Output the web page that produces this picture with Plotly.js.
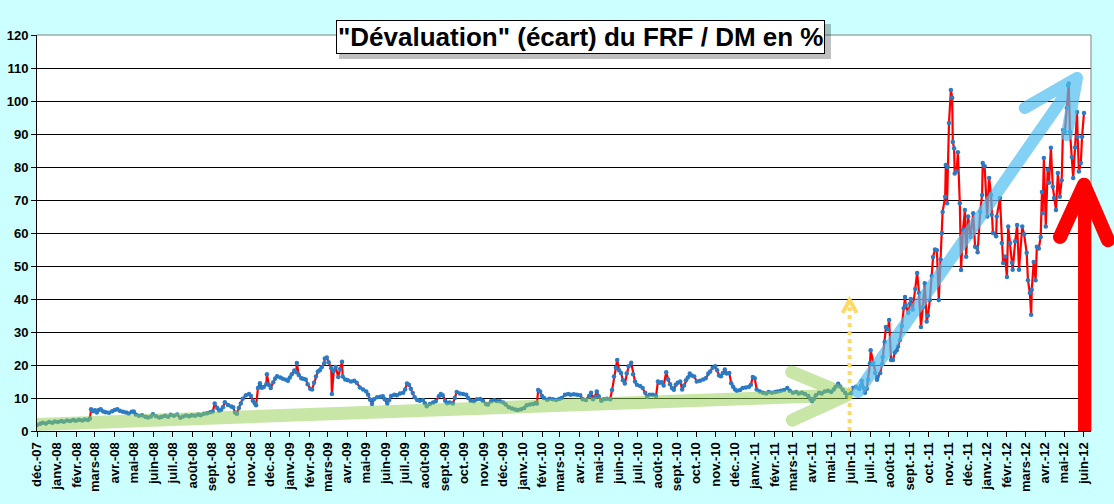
<!DOCTYPE html>
<html>
<head>
<meta charset="utf-8">
<script src="https://cdn.plot.ly/plotly-3.0.1.min.js"></script>
<style>
  html, body { margin: 0; padding: 0; background: #CCFFFF; }
  #chart { width: 1114px; height: 504px; }
</style>
</head>
<body>
<div id="chart"></div>
<script>
// Days counted from 1 Dec 2007, and the FRF / DM gap in %
const dayNum = [
    0, 5, 9, 14, 19, 24, 28, 33, 38, 42, 47, 52, 57, 61, 66,
    71, 75, 80, 83, 85, 88, 91, 94, 97, 100, 104, 108, 113, 118, 122,
    126, 130, 135, 140, 144, 149, 152, 155, 160, 165, 170, 174, 179, 182, 187,
    192, 196, 201, 206, 210, 215, 220, 225, 229, 234, 239, 243, 248, 253, 257,
    262, 267, 272, 276, 279, 283, 286, 289, 292, 295, 300, 305, 308, 311, 314,
    317, 320, 323, 328, 333, 336, 339, 342, 344, 347, 350, 353, 356, 360, 361,
    364, 367, 371, 374, 377, 382, 386, 391, 394, 397, 400, 404, 407, 408, 411,
    415, 418, 422, 425, 429, 432, 435, 438, 441, 444, 447, 451, 452, 455, 458,
    462, 463, 466, 469, 473, 476, 479, 480, 484, 488, 493, 498, 502, 507, 512,
    517, 520, 523, 526, 529, 534, 539, 543, 546, 550, 553, 556, 561, 565, 570,
    575, 578, 581, 584, 587, 590, 593, 597, 601, 606, 609, 612, 617, 622, 626,
    631, 634, 637, 641, 644, 648, 653, 656, 659, 664, 669, 674, 677, 681, 686,
    691, 696, 700, 705, 708, 713, 718, 722, 727, 732, 736, 741, 746, 751, 755,
    760, 765, 769, 774, 779, 783, 785, 787, 790, 793, 796, 801, 805, 810, 815,
    820, 824, 829, 834, 838, 843, 848, 853, 857, 862, 867, 870, 873, 876, 879,
    882, 886, 890, 895, 900, 903, 906, 909, 911, 914, 917, 920, 923, 926, 929,
    933, 936, 939, 942, 947, 951, 955, 958, 962, 967, 972, 975, 978, 981, 984,
    988, 991, 994, 997, 1000, 1003, 1006, 1010, 1013, 1016, 1019, 1022, 1025, 1028, 1032,
    1036, 1041, 1046, 1050, 1054, 1057, 1061, 1065, 1068, 1071, 1074, 1077, 1080, 1083, 1087,
    1090, 1093, 1096, 1099, 1104, 1108, 1113, 1118, 1121, 1124, 1127, 1130, 1135, 1140, 1145,
    1149, 1154, 1159, 1163, 1168, 1173, 1178, 1182, 1187, 1192, 1196, 1201, 1206, 1211, 1214,
    1217, 1220, 1223, 1228, 1232, 1237, 1242, 1247, 1251, 1254, 1258, 1261, 1265, 1269, 1272,
    1275, 1278, 1281, 1286, 1291, 1294, 1295, 1298, 1300, 1303, 1305, 1308, 1309, 1313, 1316,
    1319, 1320, 1324, 1327, 1328, 1331, 1333, 1336, 1338, 1341, 1344, 1347, 1350, 1352, 1355,
    1358, 1361, 1363, 1364, 1368, 1371, 1372, 1375, 1379, 1382, 1385, 1388, 1391, 1394, 1397,
    1399, 1402, 1405, 1407, 1410, 1413, 1416, 1419, 1421, 1422, 1426, 1427, 1429, 1430, 1432,
    1435, 1437, 1438, 1440, 1441, 1444, 1446, 1449, 1451, 1454, 1457, 1459, 1462, 1466, 1470,
    1473, 1476, 1477, 1481, 1484, 1485, 1488, 1492, 1495, 1498, 1499, 1501, 1506, 1507, 1512,
    1515, 1517, 1520, 1523, 1525, 1528, 1531, 1532, 1536, 1539, 1542, 1547, 1550, 1554, 1556,
    1559, 1561, 1562, 1565, 1568, 1570, 1573, 1576, 1578, 1579, 1581, 1584, 1587, 1589, 1592,
    1595, 1597, 1600, 1603, 1606, 1609, 1611, 1614, 1617, 1619, 1620, 1622, 1625, 1627, 1630,
    1633, 1634, 1636, 1639, 1641, 1644
];
const devalPct = [
    1.8, 2.2, 2.5, 2.3, 2.7, 2.5, 2.9, 2.7, 3.0, 2.8, 3.2, 3.0, 3.3, 3.1, 3.4,
    3.2, 3.5, 3.3, 3.8, 6.6, 6.0, 6.3, 5.6, 6.4, 6.6, 5.9, 5.7, 5.5, 6.0, 6.4,
    6.6, 6.1, 5.8, 5.6, 5.3, 5.8, 5.9, 5.0, 4.6, 4.8, 4.3, 4.1, 4.4, 5.1, 4.5,
    4.1, 4.3, 4.6, 4.3, 4.9, 4.6, 5.0, 4.0, 4.4, 4.7, 4.5, 4.8, 4.6, 5.0, 4.8,
    5.2, 5.4, 5.7, 5.9, 8.3, 7.0, 6.1, 6.4, 7.2, 8.7, 7.9, 7.4, 7.2, 5.6, 5.2,
    7.0, 8.3, 9.8, 10.8, 11.2, 10.6, 9.2, 8.4, 7.8, 13.0, 14.5, 13.1, 13.3, 14.2, 17.2,
    14.0, 13.0, 14.8, 15.9, 16.6, 16.2, 15.8, 15.5, 15.2, 16.2, 17.2, 18.3, 17.8, 20.6, 17.0,
    16.0, 15.8, 15.6, 14.2, 12.8, 12.6, 14.6, 16.5, 18.0, 18.4, 19.3, 20.5, 22.0, 22.3, 20.8,
    19.0, 11.2, 18.2, 19.4, 16.4, 18.8, 21.0, 16.5, 15.6, 15.4, 15.0, 15.2, 14.6, 13.2, 12.6,
    12.0, 11.0, 9.5, 8.2, 9.6, 10.2, 10.4, 10.5, 9.6, 8.3, 9.4, 10.6, 11.0, 10.8, 11.4,
    11.6, 12.6, 14.4, 14.0, 12.8, 11.5, 10.2, 9.4, 9.2, 9.4, 8.4, 7.5, 8.2, 8.6, 9.0,
    10.5, 11.2, 10.8, 9.2, 8.4, 8.6, 8.3, 10.0, 11.8, 11.4, 11.2, 11.0, 10.0, 9.2, 9.0,
    9.6, 9.7, 9.2, 8.2, 8.0, 9.0, 9.3, 9.1, 9.0, 8.6, 8.0, 7.2, 6.8, 6.5, 6.4,
    6.6, 7.0, 7.8, 8.0, 8.2, 8.5, 8.3, 12.4, 12.0, 10.6, 10.0, 9.5, 9.8, 9.6, 9.4,
    9.7, 10.0, 11.0, 11.2, 11.0, 11.1, 11.0, 10.8, 9.6, 9.4, 10.6, 11.6, 9.6, 10.4, 12.0,
    10.5, 9.2, 9.6, 9.8, 9.6, 12.4, 16.5, 19.2, 21.5, 18.4, 17.6, 15.4, 14.4, 17.5, 19.6,
    20.7, 17.2, 15.0, 14.0, 13.6, 13.0, 11.6, 10.4, 11.0, 11.0, 10.6, 15.0, 14.6, 14.8, 13.8,
    17.8, 15.6, 14.2, 13.0, 12.5, 14.0, 14.6, 15.0, 12.6, 13.8, 15.4, 16.2, 17.4, 16.8, 16.5,
    15.0, 15.2, 15.6, 16.0, 17.4, 18.0, 19.2, 19.6, 18.4, 16.8, 16.6, 17.6, 18.6, 17.4, 17.6,
    14.5, 13.4, 12.6, 12.2, 12.4, 13.0, 13.2, 13.4, 14.0, 16.4, 16.0, 12.6, 12.0, 11.6, 11.4,
    11.8, 11.6, 11.8, 12.0, 12.2, 12.4, 13.0, 12.2, 11.6, 11.8, 11.4, 11.6, 11.2, 10.6, 9.8,
    9.0, 9.8, 10.8, 11.6, 11.4, 12.0, 12.2, 11.8, 12.6, 13.4, 14.3, 13.5, 12.5, 11.6, 10.5,
    11.0, 11.4, 13.0, 13.4, 12.8, 13.8, 15.2, 13.0, 11.6, 12.8, 15.5, 20.5, 24.5, 20.6, 17.6,
    15.5, 16.4, 17.6, 20.2, 22.4, 27.0, 31.5, 30.8, 33.6, 21.5, 21.5, 23.8, 24.5, 25.6, 27.6,
    31.8, 37.2, 40.6, 38.2, 35.8, 38.6, 40.0, 36.8, 43.0, 47.9, 41.8, 31.5, 37.6, 44.8, 33.2,
    35.0, 39.7, 47.0, 52.7, 55.0, 54.8, 39.7, 52.0, 60.0, 66.4, 71.0, 80.6, 69.0, 80.0, 93.3,
    103.3, 101.0, 87.6, 85.7, 78.0, 78.7, 84.5, 69.0, 48.8, 60.9, 67.0, 52.8, 65.0, 58.8, 66.0,
    55.8, 55.5, 54.2, 66.4, 71.5, 81.2, 80.2, 65.0, 76.7, 71.6, 65.5, 60.0, 59.0, 65.0, 70.6,
    57.0, 50.9, 52.9, 46.7, 62.0, 57.0, 51.0, 48.9, 57.5, 62.4, 48.9, 62.0, 59.6, 54.0, 45.7,
    41.8, 35.2, 42.8, 51.2, 45.7, 55.8, 55.3, 58.8, 72.4, 66.0, 82.7, 62.0, 79.2, 75.2, 85.8,
    74.0, 70.6, 67.0, 78.2, 71.0, 76.0, 91.2, 90.7, 97.9, 104.8, 105.3, 90.7, 83.0, 76.7, 86.0,
    96.7, 89.2, 78.6, 81.2, 89.2, 96.4
];

const monthLabels = [
    "déc.-07",
    "janv.-08", "févr.-08", "mars-08", "avr.-08", "mai-08", "juin-08",
    "juil.-08", "août-08", "sept.-08", "oct.-08", "nov.-08", "déc.-08",
    "janv.-09", "févr.-09", "mars-09", "avr.-09", "mai-09", "juin-09",
    "juil.-09", "août-09", "sept.-09", "oct.-09", "nov.-09", "déc.-09",
    "janv.-10", "févr.-10", "mars-10", "avr.-10", "mai-10", "juin-10",
    "juil.-10", "août-10", "sept.-10", "oct.-10", "nov.-10", "déc.-10",
    "janv.-11", "févr.-11", "mars-11", "avr.-11", "mai-11", "juin-11",
    "juil.-11", "août-11", "sept.-11", "oct.-11", "nov.-11", "déc.-11",
    "janv.-12", "févr.-12", "mars-12", "avr.-12", "mai-12", "juin-12"
];

const chartTitle = '"Dévaluation" (écart) du FRF / DM en %';

// day count -> ISO date
const toDate = d => new Date(Date.UTC(2007, 11, 1 + d)).toISOString().slice(0, 10);
const dates = dayNum.map(toDate);
const monthTicks = monthLabels.map((_, i) => new Date(Date.UTC(2007, 11 + i, 1)).toISOString().slice(0, 10));

const trace = {
    x: dates,
    y: devalPct,
    type: 'scatter',
    mode: 'lines+markers',
    line: { color: '#FF0000', width: 2.2 },
    marker: { color: '#2A7BC4', size: 4.5 },
    hoverinfo: 'skip'
};

const axisFont = { family: 'Liberation Sans, Arial, sans-serif', size: 13, color: '#000', weight: 'bold' };

const layout = {
    width: 1114,
    height: 504,
    paper_bgcolor: '#CCFFFF',
    plot_bgcolor: '#FFFFFF',
    margin: { l: 37, r: 23, t: 35, b: 73 },
    showlegend: false,
    font: { family: 'Liberation Sans, Arial, sans-serif', color: '#000' },
    xaxis: {
        type: 'date',
        range: ['2007-12-01', '2012-06-12'],
        tickmode: 'array',
        tickvals: monthTicks,
        ticktext: monthLabels,
        tickangle: -90,
        tickfont: axisFont,
        ticks: 'outside',
        ticklen: 5,
        tickcolor: '#000',
        showline: true,
        linecolor: '#000',
        linewidth: 1,
        showgrid: false,
        zeroline: false
    },
    yaxis: {
        range: [0, 120],
        tick0: 0,
        dtick: 10,
        tickfont: axisFont,
        ticks: 'outside',
        ticklen: 5,
        tickcolor: '#000',
        showline: true,
        linecolor: '#000',
        linewidth: 1,
        gridcolor: '#000',
        gridwidth: 1,
        zeroline: false
    },
    shapes: [
        // plot frame, top and right
        { type: 'line', xref: 'paper', yref: 'paper', x0: 0, x1: 1, y0: 1, y1: 1, line: { color: '#808080', width: 1 } },
        { type: 'line', xref: 'paper', yref: 'paper', x0: 1, x1: 1, y0: 0, y1: 1, line: { color: '#808080', width: 1 } },
        // yellow dotted arrow at June 2011
        { type: 'line', xref: 'x', yref: 'y', x0: '2011-05-30', x1: '2011-05-30', y0: 0, y1: 37.5,
          line: { color: '#FFD966', width: 4, dash: 'dot' } },
        { type: 'path', xref: 'x', yref: 'y', path: 'M2011-05-19,35.8 L2011-05-30,39.7 L2011-06-10,35.8',
          line: { color: '#FFD966', width: 4 } },
        // green trend arrow
        { type: 'path', xref: 'x', yref: 'y', opacity: 0.5,
          path: 'M2007-12-01,2.0 L2011-05-26,10.9 M2011-02-28,17.9 L2011-05-26,10.9 L2011-03-01,3.3',
          line: { color: 'rgb(146,208,80)', width: 13 } },
        // blue trend arrow
        { type: 'path', xref: 'x', yref: 'y', opacity: 0.7,
          path: 'M2011-06-12,11.8 L2012-05-21,107 M2012-02-29,97.9 L2012-05-21,107 L2012-05-05,89.7',
          line: { color: 'rgb(80,190,240)', width: 12 } },
        // red arrow on the right
        { type: 'rect', xref: 'paper', yref: 'paper', x0: 0.9877, x1: 1.0, y0: 0, y1: 0.60,
          fillcolor: '#FF0000', line: { width: 0 } },
        { type: 'path', xref: 'paper', yref: 'paper',
          path: 'M0.9706,0.490 L0.9934,0.622 L1.0161,0.482',
          line: { color: '#FF0000', width: 14 } },
        // title shadow
        { type: 'rect', xref: 'paper', yref: 'paper', x0: 0.2865, x1: 0.7533, y0: 0.9394, y1: 1.0278,
          fillcolor: 'rgba(0,0,0,0.25)', line: { width: 0 } }
    ],
    annotations: [{
        xref: 'paper', yref: 'paper',
        x: 0.516, y: 0.9937,
        xanchor: 'center', yanchor: 'middle',
        showarrow: false,
        text: chartTitle,
        font: { family: 'Liberation Sans, Arial, sans-serif', size: 26, color: '#000', weight: 'bold' },
        bgcolor: '#FFFFFF',
        bordercolor: '#000',
        borderwidth: 1,
        borderpad: 1
    }]
};

const config = { displayModeBar: false, staticPlot: true };

Plotly.newPlot('chart', [trace], layout, config).then(gd => {
    // Excel-like rounded ends on the thick arrows
    gd.querySelectorAll('.shapelayer path').forEach(p => {
        if (parseFloat(p.style.strokeWidth) >= 10) {
            p.style.strokeLinecap = 'round';
            p.style.strokeLinejoin = 'round';
        }
    });
});
</script>
</body>
</html>
